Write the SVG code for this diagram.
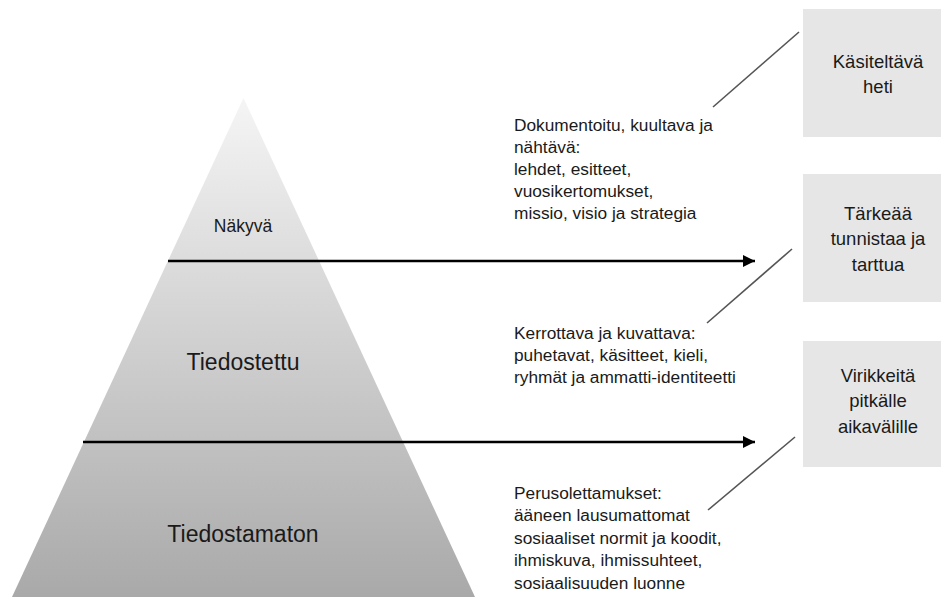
<svg xmlns="http://www.w3.org/2000/svg" width="941" height="597" viewBox="0 0 941 597">
<style>
  text { font-family: "Liberation Sans", Arial, sans-serif; fill: #1a1a1a; }
  .lvl { text-anchor: middle; font-size: 23px; }
  .small { text-anchor: middle; font-size: 17.5px; }
  .desc { font-size: 17.3px; }
  .box rect { fill: #e7e6e6; }
  .box text { text-anchor: middle; font-size: 18.5px; }
  .arrow { stroke: #000; stroke-width: 2.6; fill: none; }
  .tick { stroke: #555; stroke-width: 1.6; fill: none; }
</style>
<defs>
  <linearGradient id="pg" gradientUnits="userSpaceOnUse" x1="0" y1="98" x2="0" y2="597">
    <stop offset="0" stop-color="#f5f5f5"/>
    <stop offset="1" stop-color="#a9a9a9"/>
  </linearGradient>
  <marker id="ah" markerWidth="12" markerHeight="12" refX="12" refY="6" orient="auto" markerUnits="userSpaceOnUse">
    <path d="M0,0 L12,6 L0,12 Z" fill="#000"/>
  </marker>
</defs>
<rect width="941" height="597" fill="#fff"/>
<g id="pyramid">
  <polygon points="243.5,98 12,597 475,597" fill="url(#pg)"/>
  <text class="small" x="243" y="232">Näkyvä</text>
  <text class="lvl" x="243" y="370">Tiedostettu</text>
  <text class="lvl" x="243" y="542">Tiedostamaton</text>
</g>
<g id="desc1">
  <text class="desc" x="514" y="131">Dokumentoitu, kuultava ja</text>
  <text class="desc" x="514" y="153">nähtävä:</text>
  <text class="desc" x="514" y="175">lehdet, esitteet,</text>
  <text class="desc" x="514" y="197">vuosikertomukset,</text>
  <text class="desc" x="514" y="219">missio, visio ja strategia</text>
</g>
<g id="desc2">
  <text class="desc" x="514" y="339">Kerrottava ja kuvattava:</text>
  <text class="desc" x="514" y="361">puhetavat, käsitteet, kieli,</text>
  <text class="desc" x="514" y="383">ryhmät ja ammatti-identiteetti</text>
</g>
<g id="desc3">
  <text class="desc" x="514" y="499">Perusolettamukset:</text>
  <text class="desc" x="514" y="521">ääneen lausumattomat</text>
  <text class="desc" x="514" y="544">sosiaaliset normit ja koodit,</text>
  <text class="desc" x="514" y="566">ihmiskuva, ihmissuhteet,</text>
  <text class="desc" x="514" y="589">sosiaalisuuden luonne</text>
</g>
<g id="box1" class="box">
  <rect x="803" y="9" width="138" height="128"/>
  <text x="878" y="68">Käsiteltävä</text>
  <text x="878" y="93">heti</text>
</g>
<g id="box2" class="box">
  <rect x="803" y="174" width="138" height="128"/>
  <text x="878" y="220">Tärkeää</text>
  <text x="878" y="245">tunnistaa ja</text>
  <text x="878" y="271">tarttua</text>
</g>
<g id="box3" class="box">
  <rect x="803" y="341" width="138" height="126"/>
  <text x="878" y="382">Virikkeitä</text>
  <text x="878" y="407">pitkälle</text>
  <text x="878" y="433">aikavälille</text>
</g>
<g id="connectors">
  <line class="arrow" x1="168" y1="261" x2="755" y2="261" marker-end="url(#ah)"/>
  <line class="arrow" x1="83" y1="442" x2="755" y2="442" marker-end="url(#ah)"/>
  <line class="tick" x1="713" y1="107" x2="799" y2="32"/>
  <line class="tick" x1="707" y1="323" x2="792" y2="249"/>
  <line class="tick" x1="708" y1="510" x2="795" y2="437"/>
</g>
</svg>
